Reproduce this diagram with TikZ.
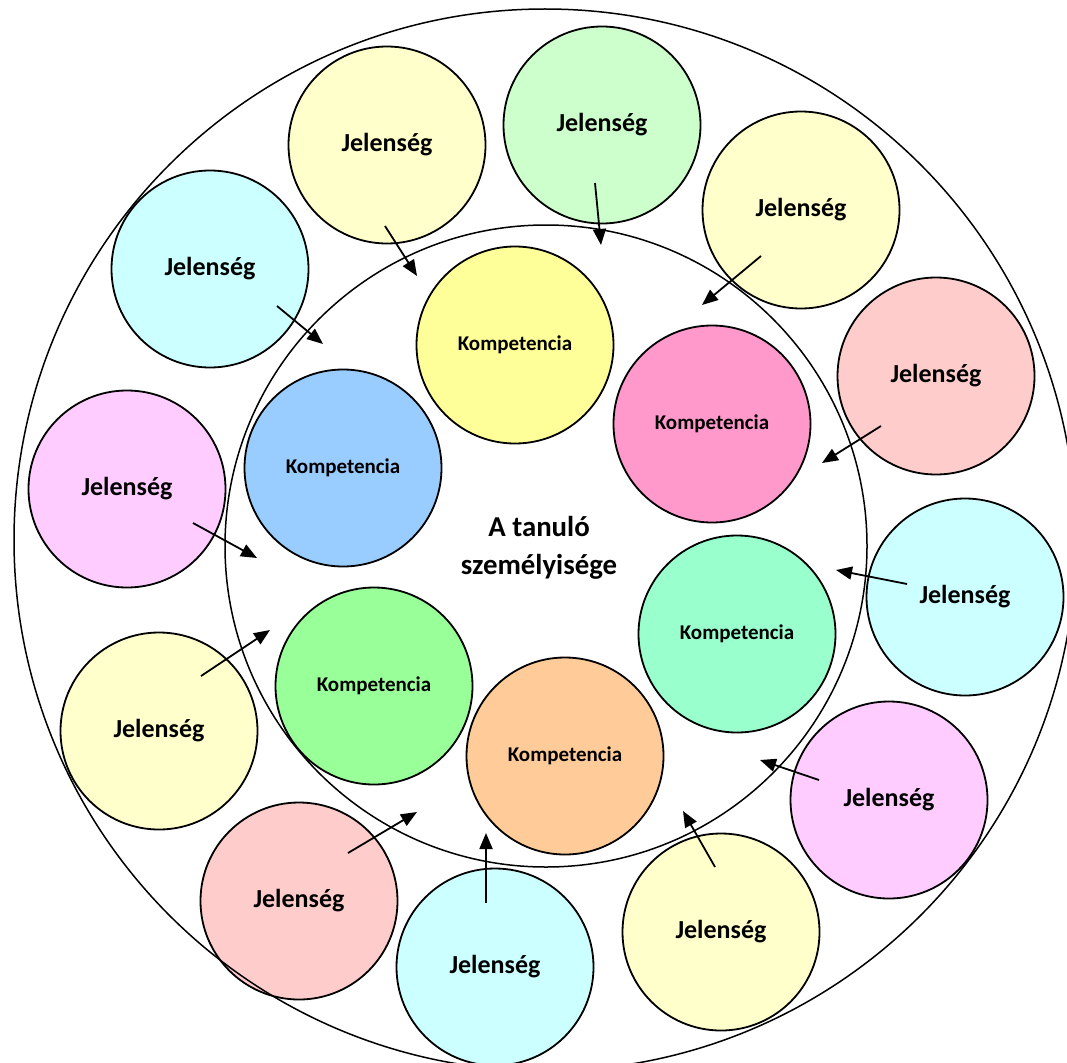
\documentclass[tikz,border=0pt]{standalone}
\usepackage{fontspec}
\setmainfont{Carlito}
\usetikzlibrary{arrows.meta,calc}
\definecolor{jyellow}{HTML}{FFFFCC}
\definecolor{jgreen}{HTML}{CCFFCC}
\definecolor{jpink}{HTML}{FFCCCC}
\definecolor{jcyan}{HTML}{CCFFFF}
\definecolor{jmagenta}{HTML}{FFCCFF}
\definecolor{kyellow}{HTML}{FFFF99}
\definecolor{kpink}{HTML}{FF99CC}
\definecolor{kmint}{HTML}{99FFCC}
\definecolor{korange}{HTML}{FFCC99}
\definecolor{kgreen}{HTML}{99FF99}
\definecolor{kblue}{HTML}{99CCFF}
\tikzstyle{jel}=[circle, draw, line width=1.8pt, minimum size=197pt, inner sep=0pt, font=\fontsize{26}{30}\selectfont\bfseries]
\tikzstyle{komp}=[circle, draw, line width=1.8pt, minimum size=197pt, inner sep=0pt, font=\fontsize{21}{25}\selectfont\bfseries]
\tikzstyle{ring}=[circle, draw, line width=1.5pt, inner sep=0pt]
\tikzstyle{arrow}=[line width=1.8pt,-{Triangle[length=16pt,width=13pt]}]

\begin{document}
\begin{tikzpicture}[x=1pt,y=-1pt]
\useasboundingbox (0,0) rectangle (1067,1062);

% jelensegek
\node (j1) [jel,fill=jyellow] at (387,145) {Jelenség};
\node (j2) [jel,fill=jgreen] at (602,125) {Jelenség};
\node (j3) [jel,fill=jyellow] at (801,210) {Jelenség};
\node (j4) [jel,fill=jpink] at (936,376) {Jelenség};
\node (j5) [jel,fill=jcyan] at (965,597) {Jelenség};
\node (j6) [jel,fill=jmagenta] at (889,800) {Jelenség};
\node (j7) [jel,fill=jyellow] at (721,932) {Jelenség};
\node (j8) [jel,fill=jcyan] at (495,967) {Jelenség};
\node (j9) [jel,fill=jpink] at (299,901) {Jelenség};
\node (j10) [jel,fill=jyellow] at (159,731) {Jelenség};
\node (j11) [jel,fill=jmagenta] at (127,489) {Jelenség};
\node (j12) [jel,fill=jcyan] at (210,269) {Jelenség};

% kompetenciak
\node (k1) [komp,fill=kyellow] at (515,345) {Kompetencia};
\node (k2) [komp,fill=kpink] at (712,424) {Kompetencia};
\node (k3) [komp,fill=kmint] at (737,634) {Kompetencia};
\node (k4) [komp,fill=korange] at (565,756) {Kompetencia};
\node (k5) [komp,fill=kgreen] at (374,686) {Kompetencia};
\node (k6) [komp,fill=kblue] at (343,468) {Kompetencia};

% korok
\node (inner) [ring,minimum size=642pt] at (546,546) {};
\node (outer) [ring,minimum size=1062pt] at (545,540) {};
\node (self) [align=center,font=\fontsize{28.8}{38}\selectfont\bfseries] at (539,548) {A tanuló\\személyisége};

% nyilak
\coordinate (s1) at ($(j1)+(-2,81)$);
\coordinate (s2) at ($(j2)+(-7,58)$);
\coordinate (s3) at ($(j3)+(-40,46)$);
\coordinate (s4) at ($(j4)+(-55,50)$);
\coordinate (s5) at ($(j5)+(-58,-13)$);
\coordinate (s6) at ($(j6)+(-70,-20)$);
\coordinate (s7) at ($(j7)+(-6,-65)$);
\coordinate (s8) at ($(j8)+(-9,-64)$);
\coordinate (s9) at ($(j9)+(49,-48)$);
\coordinate (s10) at ($(j10)+(42,-55)$);
\coordinate (s11) at ($(j11)+(66,34)$);
\coordinate (s12) at ($(j12)+(67,37)$);

\coordinate (t1) at (417,276);
\coordinate (t2) at (601,245);
\coordinate (t3) at (702,305);
\coordinate (t4) at (822,463);
\coordinate (t5) at (836,570);
\coordinate (t6) at (760,760);
\coordinate (t7) at (683,811);
\coordinate (t8) at (486,833);
\coordinate (t9) at (417,812);
\coordinate (t10) at (270,630);
\coordinate (t11) at (257,558);
\coordinate (t12) at (323,344);

\draw[arrow] (s1) -- (t1);
\draw[arrow] (s2) -- (t2);
\draw[arrow] (s3) -- (t3);
\draw[arrow] (s4) -- (t4);
\draw[arrow] (s5) -- (t5);
\draw[arrow] (s6) -- (t6);
\draw[arrow] (s7) -- (t7);
\draw[arrow] (s8) -- (t8);
\draw[arrow] (s9) -- (t9);
\draw[arrow] (s10) -- (t10);
\draw[arrow] (s11) -- (t11);
\draw[arrow] (s12) -- (t12);
\end{tikzpicture}
\end{document}
